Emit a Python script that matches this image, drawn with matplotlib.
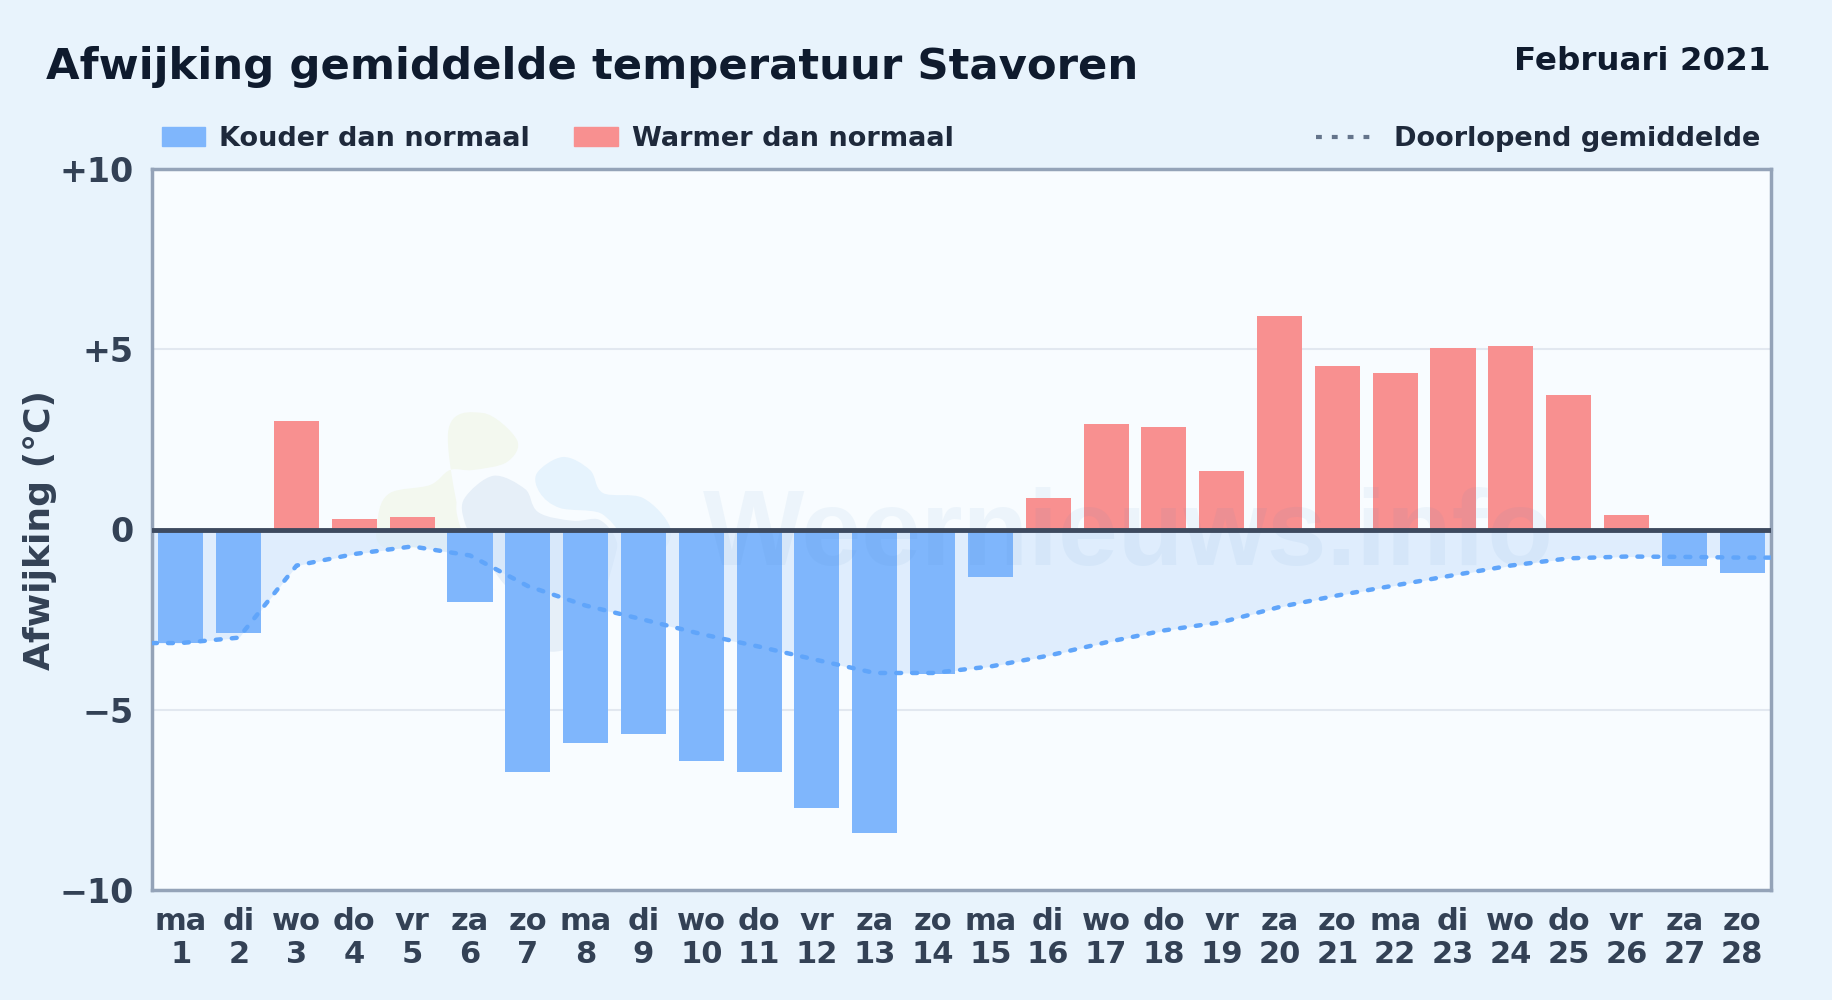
import numpy as np
import matplotlib
matplotlib.use("Agg")
import matplotlib.pyplot as plt
from matplotlib.patches import Patch, PathPatch
from matplotlib.path import Path
from matplotlib.lines import Line2D

weekdays = ["ma", "di", "wo", "do", "vr", "za", "zo"] * 4
days = list(range(1, 29))

afwijking = [-3.15, -2.87, 3.0, 0.3, 0.35, -2.0, -6.72, -5.93, -5.67, -6.42, -6.72, -7.72, -8.42, -4.02,
             -1.33, 0.88, 2.92, 2.83, 1.63, 5.93, 4.53, 4.35, 5.03, 5.1, 3.72, 0.4, -1.0, -1.2]

# cumulative mean
gemiddelde = [-3.15, -3.0, -1.0, -0.68, -0.47, -0.72, -1.57, -2.11, -2.5, -2.9, -3.25, -3.62, -3.98, -3.98,
              -3.8, -3.5, -3.13, -2.8, -2.57, -2.15, -1.83, -1.55, -1.27, -1.0, -0.8, -0.75, -0.76, -0.78]

yticks = [-10, -5, 0, 5, 10]
ylabels = ["\u221210", "\u22125", "0", "+5", "+10"]

# logo outlines, in pixels of the 1832x1000 picture
logo_green = [(448, 433), (483, 413), (517, 440), (507, 462), (473, 470), (450, 470), (430, 485), (390, 493),
              (378, 517), (383, 547), (443, 550), (495, 590), (470, 560)]
logo_blue = [(537, 473), (563, 457), (590, 470), (603, 493), (643, 498), (670, 527), (660, 550), (620, 533),
             (600, 513), (560, 508), (540, 493)]
logo_grey = [(462, 497), (493, 473), (527, 487), (540, 510), (573, 518), (600, 517), (618, 537), (617, 560),
             (593, 630), (563, 653), (537, 647), (527, 603), (503, 587), (477, 550), (462, 523)]

BLUE = "#7fb6fc"
RED = "#f89090"
TEXT = "#1e293b"
TICK = "#334155"
BG = "#f8fcff"

plt.rcParams["font.family"] = "DejaVu Sans"
plt.rcParams["font.weight"] = "bold"


def blob(points, **kw):
    # closed smooth outline through the points (catmull-rom as beziers)
    p = np.array(points, dtype=float) / [1832, -1000] + [0, 1]
    n = len(p)
    verts, codes = [p[0]], [Path.MOVETO]
    for i in range(n):
        p0, p1, p2, p3 = p[i - 1], p[i], p[(i + 1) % n], p[(i + 2) % n]
        verts += [p1 + (p2 - p0) / 6, p2 - (p3 - p1) / 6, p2]
        codes += [Path.CURVE4] * 3
    return PathPatch(Path(verts, codes), transform=fig.transFigure, **kw)


fig = plt.figure(figsize=(18.32, 10), dpi=100, facecolor="#e8f3fc")
ax = fig.add_axes([152 / 1832, 1 - 890 / 1000, (1771 - 152) / 1832, (890 - 169) / 1000])
ax.set_facecolor(BG)

x = np.array(days)
colors = [RED if v > 0 else BLUE for v in afwijking]

ax.grid(axis="y", color="#e2e8f0", lw=1.5, zorder=0)
ax.set_axisbelow(True)

# watermark
ax.add_patch(blob(logo_green, facecolor="#f3f8ef", edgecolor="none", zorder=1))
ax.add_patch(blob(logo_blue, facecolor="#e6f3fd", edgecolor="none", zorder=1.1))
ax.add_patch(blob(logo_grey, facecolor="#e6eff8", edgecolor=BG, lw=4, zorder=1.2))

xl = [0.5] + days + [28.5]
yl = [gemiddelde[0]] + gemiddelde + [gemiddelde[-1]]
ax.fill_between(xl, yl, 0, color="#cfe4fd", alpha=0.6, lw=0, zorder=1.5)
ax.bar(x, afwijking, width=0.78, color=colors, zorder=2)
ax.text(10.03, -0.98, "Weernieuws.info", fontsize=77.3, family="Liberation Sans", fontweight="bold",
        color="#3b82c4", alpha=0.06, ha="left", va="baseline", zorder=2.5)
ax.plot(xl, yl, color="#60a5fa", lw=3.2, ls=(0, (1.1, 2.5)), dash_capstyle="round", zorder=3)
ax.axhline(0, color="#3d4a5f", lw=3.5, zorder=4)

ax.set_xlim(0.5, 28.5)
ax.set_ylim(-10, 10)
ax.set_yticks(yticks)
ax.set_yticklabels(ylabels, fontsize=24, color=TICK)
ax.set_xticks(x)
ax.set_xticklabels([f"{w}\n{d}" for w, d in zip(weekdays, days)], fontsize=22, color=TICK, linespacing=1.2)
ax.tick_params(axis="y", length=0, pad=13)
ax.tick_params(axis="x", length=0, pad=12)
ax.set_ylabel("Afwijking (\u00b0C)", fontsize=26, color=TICK, fontweight="bold", labelpad=2)
for s in ax.spines.values():
    s.set_color("#94a3b8")
    s.set_linewidth(2.5)

fig.text(46 / 1832, 1 - 67.5 / 1000, "Afwijking gemiddelde temperatuur Stavoren", fontsize=31.25, color="#0f1b2e",
         va="center", ha="left")
fig.text(1771 / 1832, 1 - 62 / 1000, "Februari 2021", fontsize=23.4, color="#0f1b2e", va="center", ha="right")

h1 = [Patch(color=BLUE), Patch(color=RED)]
fig.legend(h1, ["Kouder dan normaal", "Warmer dan normaal"], loc="center left",
           bbox_to_anchor=(162 / 1832, 1 - 139 / 1000), ncol=2, frameon=False, fontsize=19.5,
           labelcolor=TEXT, handlelength=1.6, handleheight=0.72, handletextpad=0.52, columnspacing=1.63,
           borderaxespad=0, borderpad=0)
h2 = [Line2D([], [], color="#64748b", lw=3, ls=(0, (1.4, 2.4)))]
fig.legend(h2, ["Doorlopend gemiddelde"], loc="center right",
           bbox_to_anchor=(1760 / 1832, 1 - 139 / 1000), frameon=False, fontsize=19.5, labelcolor=TEXT,
           handlelength=2.1, handletextpad=0.78, borderaxespad=0, borderpad=0)

fig.savefig("out.png", dpi=100, facecolor=fig.get_facecolor())
